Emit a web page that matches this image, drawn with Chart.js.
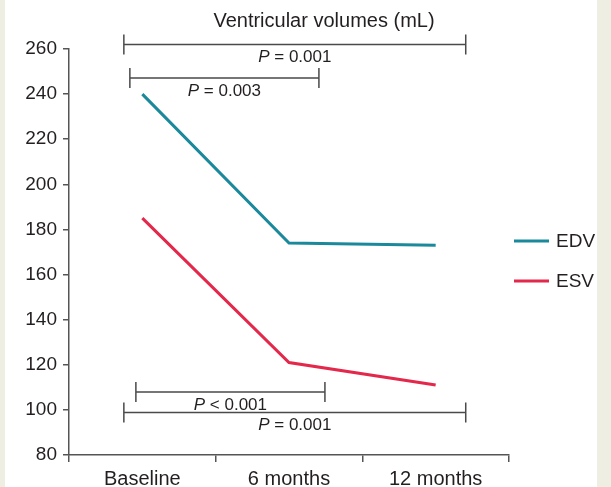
<!DOCTYPE html>
<html>
<head>
<meta charset="utf-8">
<script src="https://cdn.jsdelivr.net/npm/chart.js@4/dist/chart.umd.min.js"></script>
<style>
  html, body { margin: 0; padding: 0; background: #eeeee3; width: 611px; height: 487px; overflow: hidden; }
  #wrap { position: absolute; left: 5px; top: 0; width: 592px; height: 487px; background: #ffffff; }
  canvas { display: block; }
</style>
</head>
<body>
<div id="wrap"><canvas id="c" width="592" height="487"></canvas></div>
<script>
const categories = ['Baseline', '6 months', '12 months'];
const edvValues = [240, 174, 173];
const esvValues = [185, 121, 111];
const seriesNames = ['EDV', 'ESV'];
const yTicks = [80, 100, 120, 140, 160, 180, 200, 220, 240, 260];
const chartTitle = 'Ventricular volumes (mL)';

// significance brackets (category index units for x, value units for y)
const bracketFrom = [-0.126, -0.085, -0.044, -0.126];
const bracketTo = [2.205, 1.204, 1.245, 2.205];
const bracketValue = [262.0, 247.1, 107.9, 98.8];
const bracketLabel = ['= 0.001', '= 0.003', '< 0.001', '= 0.001'];

const FONT = '"Liberation Sans", Arial, Helvetica, sans-serif';
const TEXT = '#231f20';
const AXIS = '#555555';

const overlay = {
  id: 'overlay',
  afterDatasetsDraw(chart) {
    const ctx = chart.ctx;
    const xs = chart.scales.x, ys = chart.scales.y;
    const area = chart.chartArea;
    ctx.save();
    // title
    ctx.fillStyle = TEXT;
    ctx.font = '20px ' + FONT;
    ctx.textAlign = 'center';
    ctx.textBaseline = 'middle';
    ctx.fillText(chartTitle, (area.left + area.right) / 2 + 35, 21);

    // brackets
    ctx.strokeStyle = '#4a4a4a';
    ctx.lineWidth = 1.5;
    for (let i = 0; i < bracketValue.length; i++) {
      const x0 = xs.getPixelForValue(bracketFrom[i]);
      const x1 = xs.getPixelForValue(bracketTo[i]);
      const y = ys.getPixelForValue(bracketValue[i]);
      ctx.beginPath();
      ctx.moveTo(x0, y); ctx.lineTo(x1, y);
      ctx.moveTo(x0, y - 10); ctx.lineTo(x0, y + 10);
      ctx.moveTo(x1, y - 10); ctx.lineTo(x1, y + 10);
      ctx.stroke();
      // label: italic P + rest
      const cx = (x0 + x1) / 2;
      const ty = y + 13;
      ctx.font = 'italic 17px ' + FONT;
      const wP = ctx.measureText('P ').width;
      ctx.font = '17px ' + FONT;
      const wR = ctx.measureText(bracketLabel[i]).width;
      const start = cx - (wP + wR) / 2;
      ctx.textAlign = 'left';
      ctx.textBaseline = 'middle';
      ctx.font = 'italic 17px ' + FONT;
      ctx.fillText('P', start, ty);
      ctx.font = '17px ' + FONT;
      ctx.fillText(bracketLabel[i], start + wP, ty);
    }

    // legend
    const midY = (area.top + area.bottom) / 2 + 9;
    chart.data.datasets.forEach((ds, i) => {
      const y = midY + (i - 0.5) * 40;
      ctx.strokeStyle = ds.borderColor;
      ctx.lineWidth = 3;
      ctx.beginPath();
      ctx.moveTo(area.right + 5, y);
      ctx.lineTo(area.right + 40, y);
      ctx.stroke();
      ctx.fillStyle = TEXT;
      ctx.font = '19px ' + FONT;
      ctx.textAlign = 'left';
      ctx.textBaseline = 'middle';
      ctx.fillText(ds.label, area.right + 47, y + 1);
    });
    ctx.restore();
  }
};

new Chart(document.getElementById('c'), {
  type: 'line',
  data: {
    labels: categories,
    datasets: [
      { label: seriesNames[0], data: edvValues, borderColor: '#19899b', borderWidth: 3, pointRadius: 0, tension: 0, fill: false },
      { label: seriesNames[1], data: esvValues, borderColor: '#e3284b', borderWidth: 3, pointRadius: 0, tension: 0, fill: false }
    ]
  },
  options: {
    responsive: false,
    animation: false,
    layout: { padding: { top: 49, right: 88, left: 0, bottom: 0 } },
    plugins: { legend: { display: false }, title: { display: false }, tooltip: { enabled: false } },
    scales: {
      x: {
        type: 'category',
        offset: true,
        grid: { offset: true, drawOnChartArea: false, drawTicks: true, tickLength: 7, color: AXIS, lineWidth: 1.5 },
        border: { display: true, color: AXIS, width: 1.5 },
        ticks: { color: TEXT, font: { family: FONT, size: 20 }, padding: 5, maxRotation: 0 },
        afterFit(s) { s.height = 32; }
      },
      y: {
        min: 80, max: 260,
        afterBuildTicks(s) { s.ticks = yTicks.map(v => ({ value: v })); },
        grid: { drawOnChartArea: false, drawTicks: true, tickLength: 6, color: AXIS, lineWidth: 1.5 },
        border: { display: true, color: AXIS, width: 1.5 },
        ticks: { color: TEXT, font: { family: FONT, size: 19 }, padding: 6 },
        afterFit(s) { s.width = 64; }
      }
    }
  },
  plugins: [overlay]
});
</script>
</body>
</html>
